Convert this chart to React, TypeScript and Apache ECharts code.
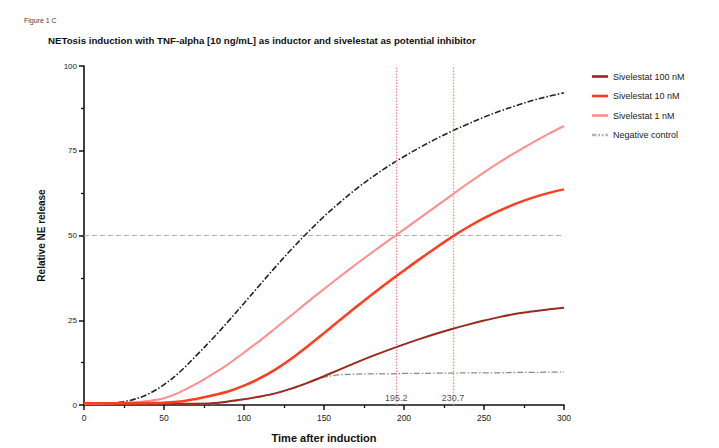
import React, { useEffect, useRef } from "react";
import * as echarts from "echarts";

const timePoints = [0, 10, 20, 30, 40, 50, 60, 70, 80, 90, 100, 110, 120, 130, 140, 150, 160, 170, 180, 190, 200, 210, 220, 230, 240, 250, 260, 270, 280, 290, 300];

const siv100 = [0.4, 0.4, 0.4, 0.4, 0.4, 0.4, 0.4, 0.4, 0.5, 1.0, 1.7, 2.5, 3.5, 4.9, 6.6, 8.5, 10.5, 12.5, 14.4, 16.2, 17.9, 19.5, 21.0, 22.4, 23.7, 24.9, 26.0, 26.9, 27.6, 28.2, 28.7];
const siv10 = [0.5, 0.5, 0.5, 0.5, 0.6, 0.7, 1.0, 1.8, 2.8, 4.0, 5.7, 7.9, 10.6, 13.8, 17.4, 21.2, 25.1, 28.9, 32.6, 36.2, 39.7, 43.1, 46.4, 49.6, 52.5, 55.1, 57.4, 59.4, 61.1, 62.5, 63.6];
const siv1 = [0.4, 0.4, 0.6, 0.8, 1.2, 2.0, 3.8, 6.2, 9.0, 12.0, 15.5, 19.0, 22.8, 26.6, 30.5, 34.2, 37.9, 41.5, 45.0, 48.4, 51.8, 55.2, 58.6, 62.0, 65.4, 68.6, 71.7, 74.6, 77.3, 79.9, 82.3];
const negControl = [0.3, 0.4, 0.7, 1.5, 3.2, 6.0, 9.8, 14.5, 19.4, 24.6, 30.0, 35.5, 40.9, 46.1, 51.0, 55.6, 59.8, 63.7, 67.2, 70.4, 73.3, 76.0, 78.5, 80.8, 82.9, 84.9, 86.7, 88.3, 89.8, 91.0, 92.1];
const baseline = [0.3, 0.3, 0.3, 0.3, 0.3, 0.3, 0.3, 0.3, 0.3, 0.9, 1.6, 2.4, 3.4, 4.8, 6.5, 8.2, 8.9, 9.1, 9.2, 9.2, 9.3, 9.3, 9.4, 9.4, 9.5, 9.5, 9.5, 9.6, 9.6, 9.7, 9.7];

const ec50Values = [195.2, 230.7];
const halfLevel = 50;

const xTicks = { min: 0, max: 300, interval: 50 };
const yTicks = { min: 0, max: 100, interval: 25 };

const FONT = "'Liberation Sans', Arial, Helvetica, sans-serif";

const solidIcon = "path://M0,0h18v3h-18z";
const dashDotIcon = "path://M0,0h5v3h-5z M7,0h2v3h-2z M11,0h2v3h-2z M15,0h3v3h-3z";

function pairs(ys: number[]) {
  return timePoints.map((x, i) => [x, ys[i]]);
}

export default function App() {
  const ref = useRef<HTMLDivElement>(null);

  useEffect(() => {
    if (!ref.current) return;
    const chart = echarts.init(ref.current, undefined, { renderer: "svg" });
    const dashDot = [6, 2, 1.5, 2];
    const curve = { type: "line", smooth: 0.35, symbol: "none", showSymbol: false };
    chart.setOption({
      animation: false,
      backgroundColor: "#ffffff",
      textStyle: { fontFamily: FONT },
      title: [
        {
          text: "Figure 1 C",
          left: 19,
          top: 12,
          textStyle: { fontSize: 7, fontWeight: "normal", color: "#444444", fontFamily: FONT },
        },
        {
          text: "NETosis induction with TNF-alpha [10 ng/mL] as inductor and sivelestat as potential inhibitor",
          left: 43,
          top: 30,
          textStyle: { fontSize: 9.7, fontWeight: "bold", color: "#111", fontFamily: FONT },
        },
      ],
      legend: {
        orient: "vertical",
        left: 587,
        top: 67,
        itemWidth: 16,
        itemHeight: 3,
        itemGap: 10.5,
        textStyle: { fontSize: 9, color: "#222", fontFamily: FONT },
        data: [
          { name: "Sivelestat 100 nM", icon: solidIcon },
          { name: "Sivelestat 10 nM", icon: solidIcon },
          { name: "Sivelestat 1 nM", icon: solidIcon },
          { name: "Negative control", icon: dashDotIcon },
        ],
      },
      grid: { left: 84, right: 155, top: 66, bottom: 43, containLabel: false },
      xAxis: {
        type: "value",
        min: xTicks.min,
        max: xTicks.max,
        interval: xTicks.interval,
        name: "Time after induction",
        nameLocation: "middle",
        nameGap: 27,
        nameTextStyle: { fontSize: 11, fontWeight: "bold", color: "#111", fontFamily: FONT },
        axisLine: { lineStyle: { color: "#111", width: 1.6 } },
        axisTick: { show: true, length: 5, lineStyle: { color: "#111", width: 1.5 } },
        minorTick: { show: true, splitNumber: 2, length: 3, lineStyle: { color: "#111", width: 1.3 } },
        axisLabel: { fontSize: 8.5, color: "#222", margin: 8, fontFamily: FONT },
        splitLine: { show: false },
      },
      yAxis: {
        type: "value",
        min: yTicks.min,
        max: yTicks.max,
        interval: yTicks.interval,
        name: "Relative NE release",
        nameLocation: "middle",
        nameGap: 38,
        nameTextStyle: { fontSize: 10, fontWeight: "bold", color: "#111", fontFamily: FONT },
        axisLine: { show: true, lineStyle: { color: "#111", width: 1.6 } },
        axisTick: { show: true, length: 5, lineStyle: { color: "#111", width: 1.5 } },
        minorTick: { show: true, splitNumber: 2, length: 3, lineStyle: { color: "#111", width: 1.3 } },
        axisLabel: { fontSize: 8, color: "#222", margin: 7, fontFamily: FONT },
        splitLine: { show: false },
      },
      series: [
        {
          name: "Half level",
          type: "line",
          data: [[xTicks.min, halfLevel], [xTicks.max, halfLevel]],
          symbol: "none",
          silent: true,
          lineStyle: { color: "#b0b0b0", width: 1, type: [5, 3] },
          z: 1,
        },
        {
          name: "EC50",
          type: "line",
          data: [],
          symbol: "none",
          markLine: {
            silent: true,
            symbol: "none",
            label: { show: false },
            lineStyle: { color: "#ff8c8c", width: 1.3, type: [1.5, 1.5] },
            data: ec50Values.map((v) => ({ xAxis: v })),
          },
          z: 2,
        },
        {
          name: "EC50 labels",
          type: "scatter",
          data: ec50Values.map((v) => [v, 0]),
          symbolSize: 0,
          silent: true,
          label: {
            show: true,
            position: "top",
            distance: 3,
            formatter: (p: any) => String(p.value[0]),
            fontSize: 9,
            color: "#222",
            fontFamily: FONT,
          },
          z: 10,
        },
        {
          ...curve,
          name: "Baseline",
          data: pairs(baseline),
          lineStyle: { color: "#8a8a8a", width: 1.3, type: dashDot },
          z: 3,
        },
        {
          ...curve,
          name: "Negative control",
          data: pairs(negControl),
          itemStyle: { color: "#b5b5b5" },
          lineStyle: { color: "#222", width: 1.6, type: dashDot },
          z: 4,
        },
        {
          ...curve,
          name: "Sivelestat 100 nM",
          data: pairs(siv100),
          itemStyle: { color: "#9b2a1e" },
          lineStyle: { color: "#9b2a1e", width: 2 },
          z: 5,
        },
        {
          ...curve,
          name: "Sivelestat 1 nM",
          data: pairs(siv1),
          itemStyle: { color: "#ff8f8f" },
          lineStyle: { color: "#ff8f8f", width: 2 },
          z: 6,
        },
        {
          ...curve,
          name: "Sivelestat 10 nM",
          data: pairs(siv10),
          itemStyle: { color: "#ff3d1f" },
          lineStyle: { color: "#ff3d1f", width: 2.5 },
          z: 7,
        },
      ],
    });
    return () => chart.dispose();
  }, []);

  return <div ref={ref} style={{ width: 719, height: 448, position: "absolute", left: 0, top: 0 }} />;
}
